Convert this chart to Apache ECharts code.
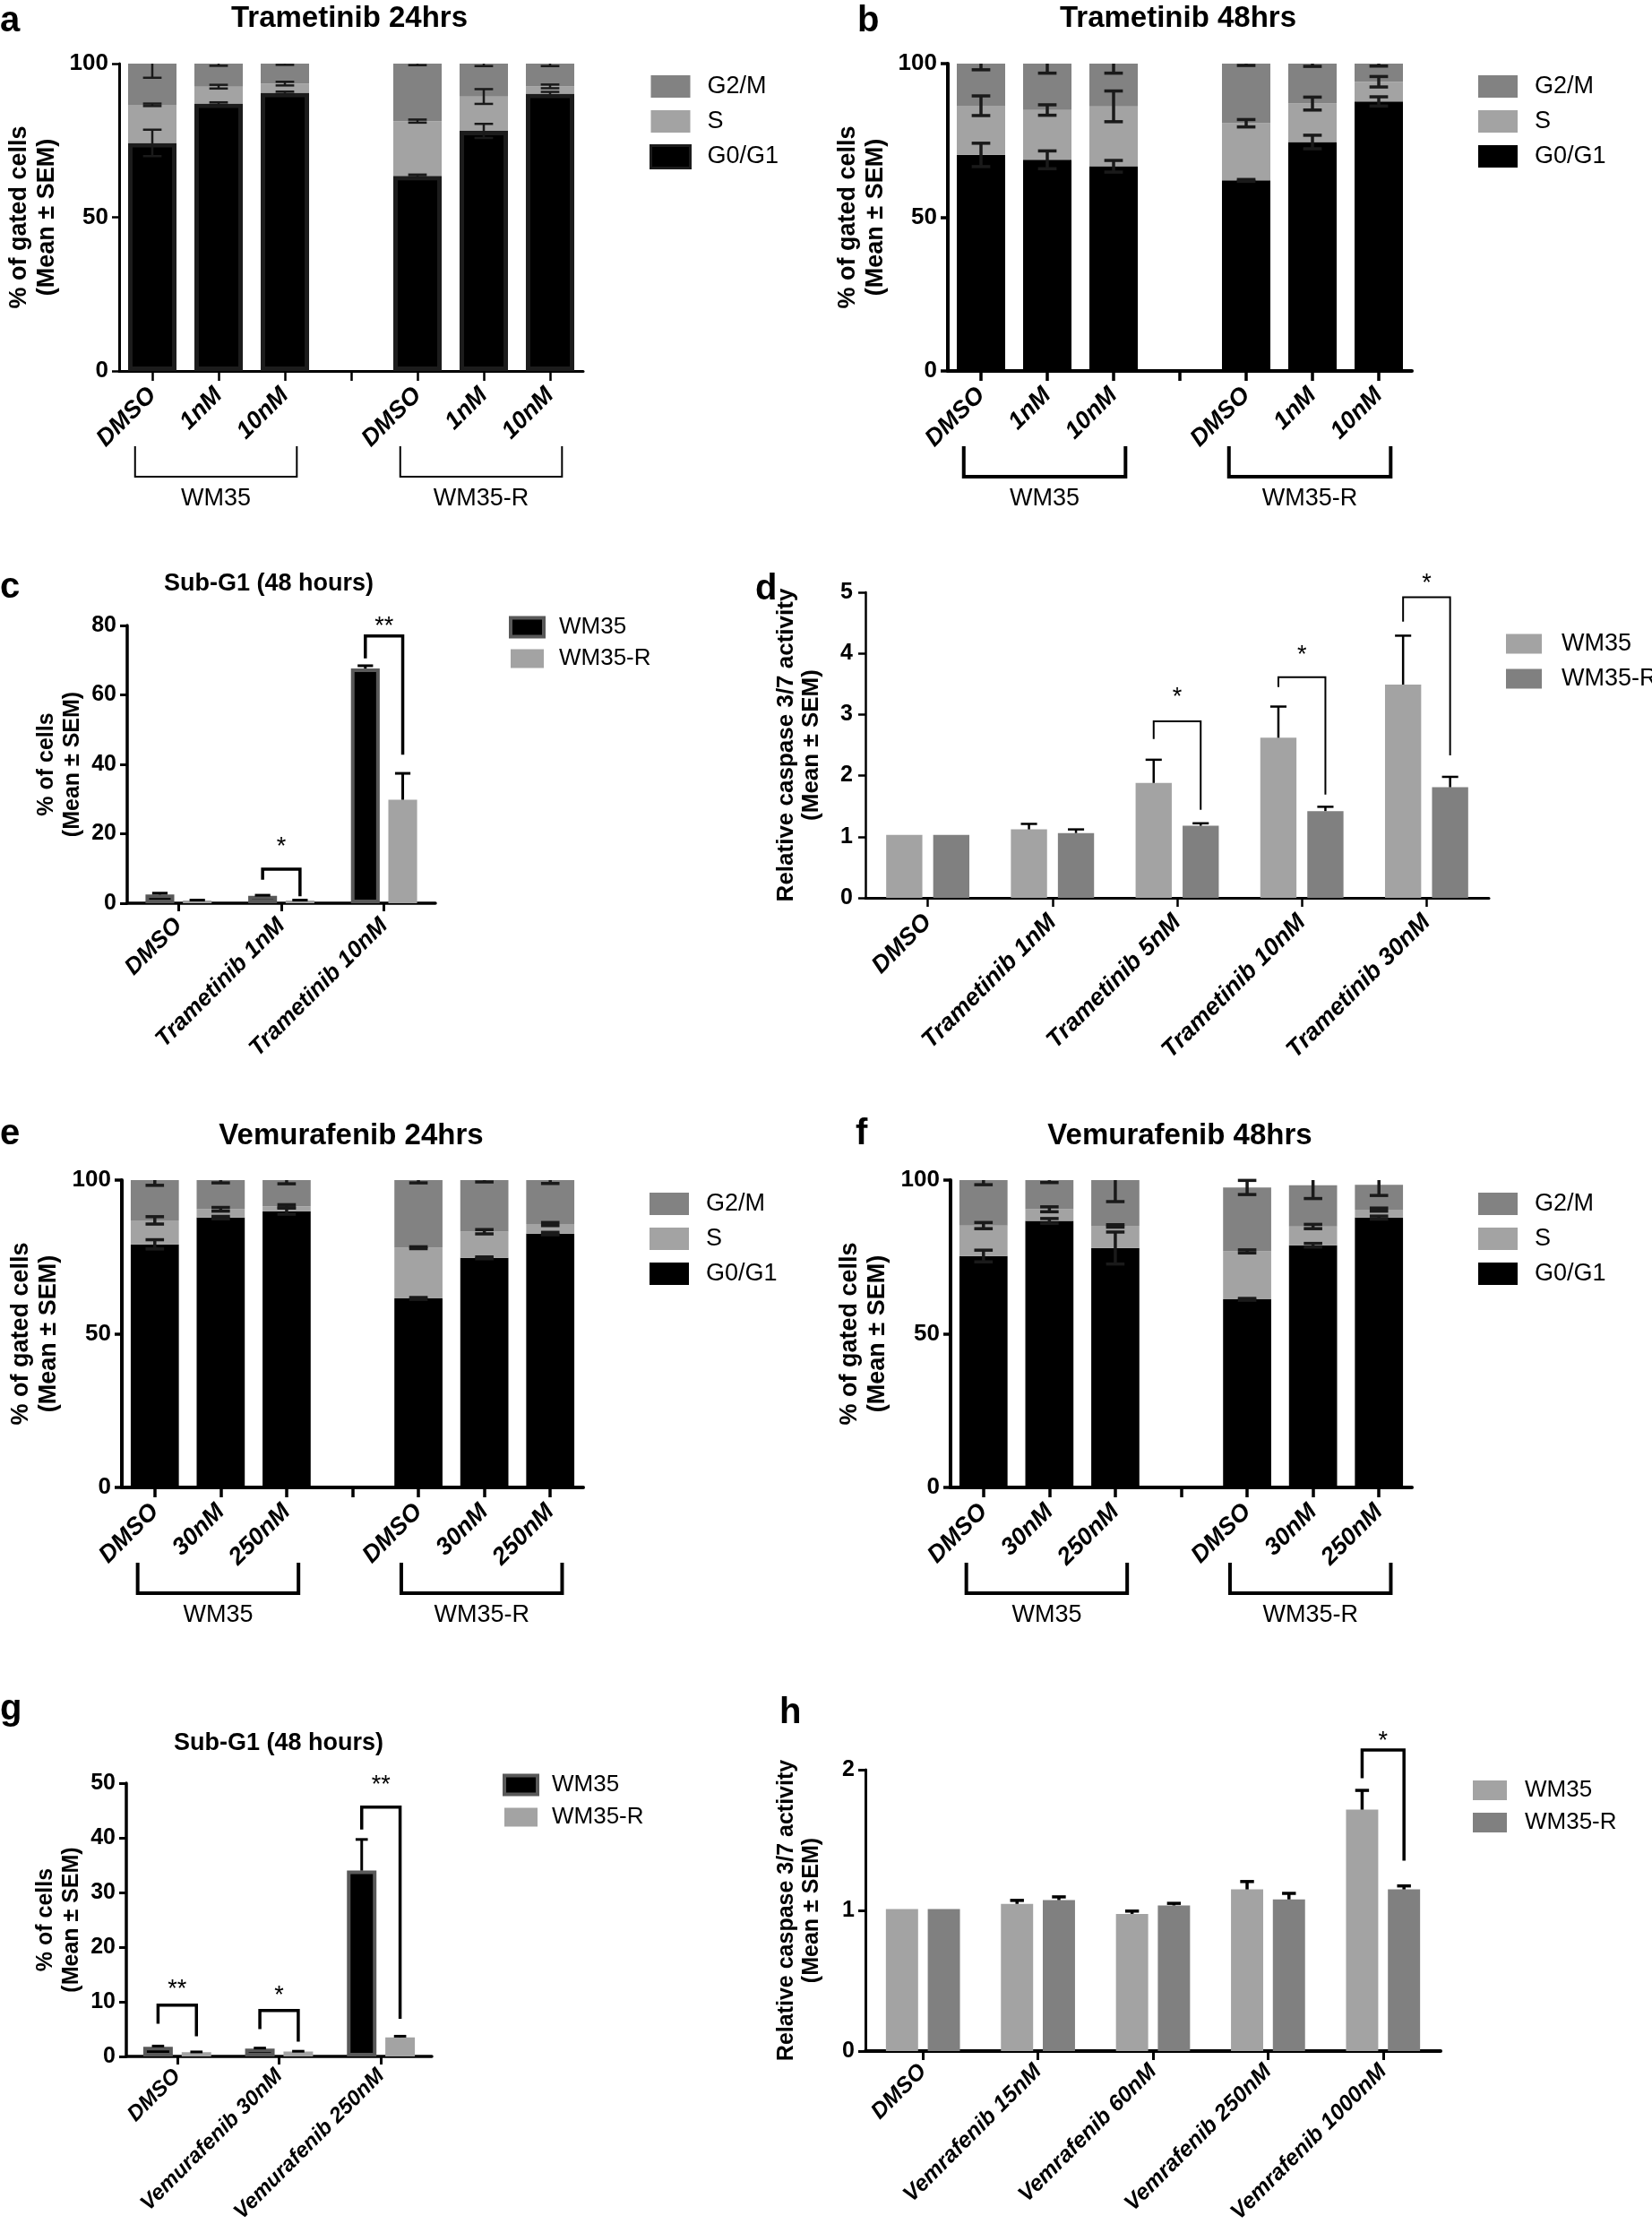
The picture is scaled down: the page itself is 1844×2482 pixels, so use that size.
<!DOCTYPE html>
<html>
<head>
<meta charset="utf-8">
<script src="https://cdn.jsdelivr.net/npm/echarts@6/dist/echarts.min.js"></script>
<style>
html,body{margin:0;padding:0;background:#fff;}
#chart{width:1844px;height:2482px;}
</style>
</head>
<body>
<div id="chart"></div>
<script>
// ---------------- categories / tick labels ----------------
const cellLines = ['WM35', 'WM35-R'];
const phases = ['G2/M', 'S', 'G0/G1'];
const trametinibDoses = ['DMSO', '1nM', '10nM'];
const vemurafenibDoses = ['DMSO', '30nM', '250nM'];
const subG1TramCats = ['DMSO', 'Trametinib 1nM', 'Trametinib 10nM'];
const caspTramCats = ['DMSO', 'Trametinib 1nM', 'Trametinib 5nM', 'Trametinib 10nM', 'Trametinib 30nM'];
const subG1VemCats = ['DMSO', 'Vemurafenib 30nM', 'Vemurafenib 250nM'];
const caspVemCats = ['DMSO', 'Vemrafenib 15nM', 'Vemrafenib 60nM', 'Vemrafenib 250nM', 'Vemrafenib 1000nM'];
const cycleTicks = [0, 50, 100];
const subG1TramTicks = [0, 20, 40, 60, 80];
const caspTramTicks = [0, 1, 2, 3, 4, 5];
const subG1VemTicks = [0, 10, 20, 30, 40, 50];
const caspVemTicks = [0, 1, 2];

// ---------------- a: Trametinib 24hrs (WM35 DMSO,1nM,10nM | WM35-R DMSO,1nM,10nM) ----------------
const a_G0G1 = [74.2, 87.0, 90.5, 63.5, 78.1, 90.2];
const a_S    = [12.4, 5.5, 3.0, 17.8, 11.2, 2.4];
const a_G2M  = [13.4, 7.5, 6.5, 18.7, 10.7, 7.4];
const a_G0G1_sem = [4.3, 0.4, 0.4, 0.4, 2.3, 0.6];
const a_S_sem    = [0.4, 0.6, 0.6, 0.5, 2.4, 0.6];
const a_G2M_sem  = [4.6, 0.7, 0.4, 0.5, 0.8, 0.8];

// ---------------- b: Trametinib 48hrs ----------------
const b_G0G1 = [70.3, 68.7, 66.6, 62.0, 74.5, 87.7];
const b_S    = [16.0, 16.2, 19.5, 18.6, 12.5, 6.4];
const b_G2M  = [13.7, 15.1, 13.9, 19.4, 13.0, 5.9];
const b_G0G1_sem = [3.8, 2.9, 1.9, 0.3, 2.2, 1.5];
const b_S_sem    = [3.2, 1.7, 5.0, 1.2, 2.1, 1.7];
const b_G2M_sem  = [2.0, 3.1, 3.1, 0.6, 0.9, 0.8];

// ---------------- c: Sub-G1 (48 hours), trametinib ----------------
const c_WM35      = [2.5, 2.1, 67.6];
const c_WM35_sem  = [0.4, 0.2, 0.8];
const c_WM35R     = [0.8, 0.8, 29.8];
const c_WM35R_sem = [0.1, 0.1, 7.6];
// [category, left leg end, bracket top, right leg end, star position]
const c_sig = [[1, 6.8, 9.8, 2.0, 17.7], [2, 70.5, 77.0, 42.8, 81.2]];
const c_sigLabels = ['*', '**'];

// ---------------- d: caspase 3/7, trametinib ----------------
const d_WM35      = [1.03, 1.12, 1.88, 2.62, 3.49];
const d_WM35_sem  = [0, 0.09, 0.38, 0.51, 0.80];
const d_WM35R     = [1.03, 1.06, 1.18, 1.42, 1.81];
const d_WM35R_sem = [0, 0.06, 0.04, 0.07, 0.17];
const d_sig = [[2, 2.60, 2.89, 1.44, 3.36], [3, 3.45, 3.61, 1.69, 4.06], [4, 4.52, 4.92, 2.33, 5.22]];
const d_sigLabels = ['*', '*', '*'];

// ---------------- e: Vemurafenib 24hrs ----------------
const e_G0G1 = [79.1, 87.8, 89.9, 61.5, 74.7, 82.6];
const e_S    = [7.8, 2.7, 1.6, 16.5, 8.5, 3.1];
const e_G2M  = [13.1, 9.5, 8.5, 22.0, 16.8, 14.3];
const e_G0G1_sem = [1.5, 0.4, 1.0, 0.3, 0.3, 0.4];
const e_S_sem    = [1.2, 0.6, 0.5, 0.3, 0.7, 0.5];
const e_G2M_sem  = [1.7, 0.9, 1.2, 0.9, 0.6, 1.1];

// ---------------- f: Vemurafenib 48hrs ----------------
const f_G0G1 = [75.3, 86.7, 77.9, 61.2, 78.8, 87.8];
const f_S    = [9.9, 3.8, 7.2, 15.6, 6.1, 2.6];
const f_G2M  = [14.8, 9.5, 14.9, 20.8, 13.4, 8.1];
const f_G0G1_sem = [1.9, 0.8, 5.2, 0.3, 0.6, 0.5];
const f_S_sem    = [1.0, 0.8, 0.4, 0.5, 0.7, 0.5];
const f_G2M_sem  = [1.5, 0.8, 7.0, 2.3, 4.3, 3.5];

// ---------------- g: Sub-G1 (48 hours), vemurafenib ----------------
const g_WM35      = [1.75, 1.43, 34.0];
const g_WM35_sem  = [0.15, 0.1, 5.7];
const g_WM35R     = [0.78, 0.9, 3.5];
const g_WM35R_sem = [0.05, 0.05, 0.2];
const g_sig = [[0, 6.0, 9.4, 3.7, 13.1], [1, 5.0, 8.4, 2.7, 12.1], [2, 41.5, 45.6, 6.9, 50.5]];
const g_sigLabels = ['**', '*', '**'];

// ---------------- h: caspase 3/7, vemurafenib ----------------
const h_WM35      = [1.01, 1.046, 0.975, 1.149, 1.716];
const h_WM35_sem  = [0, 0.025, 0.02, 0.056, 0.137];
const h_WM35R     = [1.01, 1.073, 1.035, 1.078, 1.149];
const h_WM35R_sem = [0, 0.023, 0.015, 0.043, 0.025];
const h_sig = [[4, 1.94, 2.14, 1.354, 2.24]];
const h_sigLabels = ['*'];

// =====================================================================
const FONT = "'Liberation Sans', Arial, Helvetica, sans-serif";
const C_G2M = '#828282', C_S = '#a3a3a3', C_G01 = '#000000';
const C_LIGHT = '#a3a3a3', C_DARK = '#808080';

const grids = [], xAxes = [], yAxes = [], series = [], legends = [], graphics = [];

function addPanel(box, cats, ticks, o) {
  const i = grids.length;
  grids.push({left: box[0], top: box[1], width: box[2], height: box[3], containLabel: false, outerBoundsMode: 'none'});
  xAxes.push({
    type: 'category', gridIndex: i, data: cats,
    axisLine: {show: true, onZero: false, lineStyle: {color: '#000', width: o.xw}},
    axisTick: {show: true, alignWithLabel: true, length: o.xtl || 11, lineStyle: {color: '#000', width: o.xtw || 2.5}},
    axisLabel: {show: true, interval: 0, rotate: 45, margin: o.lm || 23, color: '#000', fontFamily: FONT,
      fontWeight: 'bold', fontStyle: 'italic', fontSize: o.xfs || 27, formatter: o.fmt},
    splitLine: {show: false}
  });
  yAxes.push({
    type: 'value', gridIndex: i, min: ticks[0], max: ticks[ticks.length - 1], interval: ticks[1] - ticks[0],
    name: o.yname, nameLocation: 'middle', nameGap: o.ng, nameRotate: 90, nameMoveOverlap: false,
    nameTextStyle: {fontFamily: FONT, fontWeight: 'bold', fontSize: o.nfs, lineHeight: o.nlh, color: '#000', align: 'center'},
    axisLine: {show: true, lineStyle: {color: '#000', width: o.yw}},
    axisTick: {show: true, length: 8, lineStyle: {color: '#000', width: o.ytw || 2.5}},
    axisLabel: {show: true, margin: o.ylm || 12, color: '#000', fontFamily: FONT, fontWeight: 'bold', fontSize: o.yfs || 26},
    splitLine: {show: false}
  });
  return i;
}

function errorBarRenderer(capFrac, lw, ymax, offFrac, oneSided, color) {
  return function (params, api) {
    const x = api.value(0), v = api.value(1), e = api.value(2), side = api.value(3) || 0;
    if (!(e > 0)) return null;
    const band = api.size([1, 0])[0];
    const hiV = v + e, loV = oneSided ? v : Math.max(v - e, 0);
    const pTop = api.coord([x, Math.min(hiV, ymax)]);
    const pBot = api.coord([x, loV]);
    const cx = pTop[0] + side * offFrac * band;
    const half = band * capFrac / 2;
    const st = {stroke: color, lineWidth: lw};
    const ch = [{type: 'line', shape: {x1: cx, y1: pTop[1], x2: cx, y2: pBot[1]}, style: st}];
    if (hiV <= ymax + 1e-6) ch.push({type: 'line', shape: {x1: cx - half, y1: pTop[1], x2: cx + half, y2: pTop[1]}, style: st});
    if (!oneSided) ch.push({type: 'line', shape: {x1: cx - half, y1: pBot[1], x2: cx + half, y2: pBot[1]}, style: st});
    return {type: 'group', children: ch};
  };
}

function sigRenderer(offFrac, lw, labels, fs) {
  return function (params, api) {
    const c = api.value(0);
    const band = api.size([1, 0])[0];
    const yt = api.coord([c, api.value(2)]);
    const xl = yt[0] - band * offFrac, xr = yt[0] + band * offFrac;
    const yl = api.coord([c, api.value(1)])[1], yr = api.coord([c, api.value(3)])[1], ys = api.coord([c, api.value(4)])[1];
    return {type: 'group', children: [
      {type: 'polyline', shape: {points: [[xl, yl], [xl, yt[1]], [xr, yt[1]], [xr, yr]]},
       style: {stroke: '#000', lineWidth: lw, fill: null}},
      {type: 'text', x: (xl + xr) / 2, y: ys + fs * 0.22,
       style: {text: labels[params.dataIndex], fill: '#000', fontSize: fs, fontFamily: FONT, align: 'center', verticalAlign: 'middle'}}
    ]};
  };
}

function groupBracketRenderer(lw) {
  return function (params, api) {
    const band = api.size([1, 0])[0];
    const p0 = api.coord([api.value(0), 0]), p1 = api.coord([api.value(1), 0]);
    const xl = p0[0] - band * 0.26, xr = p1[0] + band * 0.18, y0 = p0[1];
    return {type: 'group', children: [
      {type: 'polyline', shape: {points: [[xl, y0 + 84], [xl, y0 + 118], [xr, y0 + 118], [xr, y0 + 84]]},
       style: {stroke: '#000', lineWidth: lw, fill: null}},
      {type: 'text', x: (xl + xr) / 2, y: y0 + 143,
       style: {text: cellLines[params.dataIndex], fill: '#000', fontSize: 27, fontFamily: FONT, align: 'center', verticalAlign: 'middle'}}
    ]};
  };
}

function stackedCats(doses) {
  return [...doses.map(d => cellLines[0] + '|' + d), 'gap', ...doses.map(d => cellLines[1] + '|' + d)];
}
function withGap(arr) { return [...arr.slice(0, 3), '-', ...arr.slice(3)]; }

function stackedPanel(box, doses, G0G1, S, G2M, sG, sS, sM, o) {
  const i = addPanel(box, stackedCats(doses), cycleTicks, Object.assign({
    yname: '% of gated cells\n(Mean \u00b1 SEM)', nfs: 27, nlh: 31,
    fmt: v => (v.split('|')[1] || '')
  }, o));
  const common = {type: 'bar', xAxisIndex: i, yAxisIndex: i, stack: 'cycle' + i, barWidth: '73%'};
  series.push(Object.assign({}, common, {name: 'G0/G1', data: withGap(G0G1),
    itemStyle: {color: C_G01, borderColor: o.g01Border || C_G01, borderWidth: o.g01BorderW || 0}}));
  series.push(Object.assign({}, common, {name: 'S', data: withGap(S), itemStyle: {color: C_S}}));
  series.push(Object.assign({}, common, {name: 'G2/M', data: withGap(G2M), itemStyle: {color: C_G2M}}));
  const err = [];
  G0G1.forEach((g, k) => {
    const cat = k < 3 ? k : k + 1;
    err.push([cat, g, sG[k], 0]);
    err.push([cat, g + S[k], sS[k], 0]);
    err.push([cat, g + S[k] + G2M[k], sM[k], 0]);
  });
  series.push({type: 'custom', xAxisIndex: i, yAxisIndex: i, data: err, z: 5, silent: true,
    renderItem: errorBarRenderer(0.28, o.elw, 100, 0, false, '#1a1a1a')});
  series.push({type: 'custom', xAxisIndex: i, yAxisIndex: i, data: [[0, 2], [4, 6]], z: 5, silent: true,
    renderItem: groupBracketRenderer(o.blw)});
  legends.push({
    left: o.leg[0], top: o.leg[1], orient: 'vertical', padding: 0, itemWidth: 44, itemHeight: 25, itemGap: 12,
    icon: 'rect', selectedMode: false,
    data: [
      {name: 'G2/M', itemStyle: {color: C_G2M, borderWidth: 0}},
      {name: 'S', itemStyle: {color: C_S, borderWidth: 0}},
      {name: 'G0/G1', itemStyle: {color: C_G01, borderColor: o.g01Border || C_G01, borderWidth: o.g01BorderW ? 3 : 0}}
    ],
    textStyle: {fontFamily: FONT, fontSize: 27, color: '#000', lineHeight: 25, padding: [0, 0, 0, 14]}
  });
  return i;
}

function groupedPanel(box, cats, ticks, A, sA, B, sB, sig, sigLabels, o) {
  const i = addPanel(box, cats, ticks, o);
  const off = o.bw * (1 + 0.3) / 2;
  series.push({type: 'bar', name: cellLines[0], xAxisIndex: i, yAxisIndex: i, data: A, barWidth: (o.bw * 100) + '%', barGap: '30%',
    itemStyle: o.aStyle});
  series.push({type: 'bar', name: cellLines[1], xAxisIndex: i, yAxisIndex: i, data: B, barWidth: (o.bw * 100) + '%', barGap: '30%',
    itemStyle: o.bStyle});
  const err = [];
  A.forEach((v, k) => { err.push([k, v, sA[k], -1]); err.push([k, B[k], sB[k], 1]); });
  series.push({type: 'custom', xAxisIndex: i, yAxisIndex: i, data: err, z: 5, silent: true,
    renderItem: errorBarRenderer(o.cap, o.elw, 1e9, off, true, '#000')});
  series.push({type: 'custom', xAxisIndex: i, yAxisIndex: i, data: sig, z: 5, silent: true,
    renderItem: sigRenderer(off, o.slw, sigLabels, 27)});
  legends.push({
    left: o.leg[0], top: o.leg[1], orient: 'vertical', padding: 0, itemWidth: o.liw, itemHeight: o.lih, itemGap: o.lgap,
    icon: 'rect', selectedMode: false,
    data: [
      {name: cellLines[0], itemStyle: Object.assign({borderWidth: 0}, o.aLegStyle || o.aStyle)},
      {name: cellLines[1], itemStyle: Object.assign({borderWidth: 0}, o.bStyle)}
    ],
    textStyle: {fontFamily: FONT, fontSize: o.lfs, color: '#000', lineHeight: o.lih, padding: [0, 0, 0, o.ltg]}
  });
  return i;
}

// ---- a ----
stackedPanel([133, 71, 518, 343], trametinibDoses, a_G0G1, a_S, a_G2M, a_G0G1_sem, a_S_sem, a_G2M_sem,
  {ng: 65, xw: 3, yw: 3, elw: 2.5, blw: 2, leg: [725, 83], g01Border: '#1c1c1c', g01BorderW: 5});
// ---- b ----
stackedPanel([1058, 71, 518, 343], trametinibDoses, b_G0G1, b_S, b_G2M, b_G0G1_sem, b_S_sem, b_G2M_sem,
  {ng: 65, xw: 4, yw: 4, xtw: 3.5, ytw: 3.5, elw: 3.5, blw: 4, leg: [1650, 83]});
// ---- e ----
stackedPanel([136, 1317, 515, 343], vemurafenibDoses, e_G0G1, e_S, e_G2M, e_G0G1_sem, e_S_sem, e_G2M_sem,
  {ng: 66, xw: 4, yw: 4, xtw: 3.5, ytw: 3.5, elw: 3.5, blw: 4, leg: [725, 1330]});
// ---- f ----
stackedPanel([1061, 1317, 515, 343], vemurafenibDoses, f_G0G1, f_S, f_G2M, f_G0G1_sem, f_S_sem, f_G2M_sem,
  {ng: 66, xw: 4, yw: 4, xtw: 3.5, ytw: 3.5, elw: 3.5, blw: 4, leg: [1650, 1330]});

// ---- c ----
groupedPanel([142, 698, 344, 310], subG1TramCats, subG1TramTicks, c_WM35, c_WM35_sem, c_WM35R, c_WM35R_sem, c_sig, c_sigLabels, {
  yname: '% of cells\n(Mean \u00b1 SEM)', nfs: 25, nlh: 29, ng: 46, xw: 3.5, yw: 3.5, xtw: 3, ytw: 3, xtl: 9, xfs: 26, yfs: 25, lm: 21,
  bw: 0.28, cap: 0.15, elw: 3, slw: 3.5,
  aStyle: {color: '#000', borderColor: '#595959', borderWidth: 4}, bStyle: {color: C_LIGHT},
  aLegStyle: {color: '#000', borderColor: '#595959', borderWidth: 4},
  leg: [568, 687], liw: 37, lih: 21, lgap: 9, lfs: 26, ltg: 12
});
// ---- d ----
groupedPanel([966, 661, 696, 341], caspTramCats, caspTramTicks, d_WM35, d_WM35_sem, d_WM35R, d_WM35R_sem, d_sig, d_sigLabels, {
  yname: 'Relative caspase 3/7 activity\n(Mean \u00b1 SEM)', nfs: 26, nlh: 28, ng: 46, xw: 3, yw: 2.5, xtw: 2.5, ytw: 2.5, xtl: 10, xfs: 27, yfs: 25, ylm: 14, lm: 23,
  bw: 0.29, cap: 0.13, elw: 2.5, slw: 2,
  aStyle: {color: C_LIGHT}, bStyle: {color: C_DARK},
  leg: [1681, 705], liw: 40, lih: 22, lgap: 12, lfs: 27, ltg: 17
});
// ---- g ----
groupedPanel([141, 1990, 341, 305], subG1VemCats, subG1VemTicks, g_WM35, g_WM35_sem, g_WM35R, g_WM35R_sem, g_sig, g_sigLabels, {
  yname: '% of cells\n(Mean \u00b1 SEM)', nfs: 25, nlh: 29, ng: 46, xw: 3.5, yw: 3.5, xtw: 3, ytw: 3, xtl: 9, xfs: 24, yfs: 25, lm: 18,
  bw: 0.29, cap: 0.12, elw: 3, slw: 3.5,
  aStyle: {color: '#000', borderColor: '#595959', borderWidth: 4}, bStyle: {color: C_LIGHT},
  aLegStyle: {color: '#000', borderColor: '#595959', borderWidth: 4},
  leg: [561, 1979], liw: 37, lih: 21, lgap: 10, lfs: 26, ltg: 11
});
// ---- h ----
groupedPanel([966, 1975, 642, 314], caspVemCats, caspVemTicks, h_WM35, h_WM35_sem, h_WM35R, h_WM35R_sem, h_sig, h_sigLabels, {
  yname: 'Relative caspase 3/7 activity\n(Mean \u00b1 SEM)', nfs: 25, nlh: 28, ng: 46, xw: 4, yw: 3, xtw: 3, ytw: 3, xtl: 10, xfs: 25, yfs: 25, lm: 19,
  bw: 0.28, cap: 0.12, elw: 3.5, slw: 3.5,
  aStyle: {color: C_LIGHT}, bStyle: {color: C_DARK},
  leg: [1644, 1985], liw: 38, lih: 22, lgap: 10, lfs: 26, ltg: 15
});

// ---- panel letters and titles ----
const letterStyle = (t) => ({fill: '#000', text: t, fontSize: 40, fontWeight: 'bold', fontFamily: FONT, align: 'left', verticalAlign: 'middle'});
[['a', 0, 24], ['b', 957, 24], ['c', 0, 656], ['d', 843, 658], ['e', 0, 1266], ['f', 955, 1266], ['g', 0, 1908], ['h', 870, 1912]]
  .forEach(([t, x, y]) => graphics.push({type: 'text', x: x, y: y, silent: true, style: letterStyle(t)}));
const titleStyle = (t, fs) => ({fill: '#000', text: t, fontSize: fs, fontWeight: 'bold', fontFamily: FONT, align: 'center', verticalAlign: 'middle'});
[['Trametinib 24hrs', 390, 21, 33], ['Trametinib 48hrs', 1315, 21, 33], ['Sub-G1 (48 hours)', 300, 652, 27],
 ['Vemurafenib 24hrs', 392, 1268, 33], ['Vemurafenib 48hrs', 1317, 1268, 33], ['Sub-G1 (48 hours)', 311, 1946, 27]]
  .forEach(([t, x, y, fs]) => graphics.push({type: 'text', x: x, y: y, silent: true, style: titleStyle(t, fs)}));

const chart = echarts.init(document.getElementById('chart'), null, {renderer: 'canvas'});
chart.setOption({
  animation: false,
  backgroundColor: '#fff',
  grid: grids,
  xAxis: xAxes,
  yAxis: yAxes,
  legend: legends,
  series: series,
  graphic: graphics
});
</script>
</body>
</html>
